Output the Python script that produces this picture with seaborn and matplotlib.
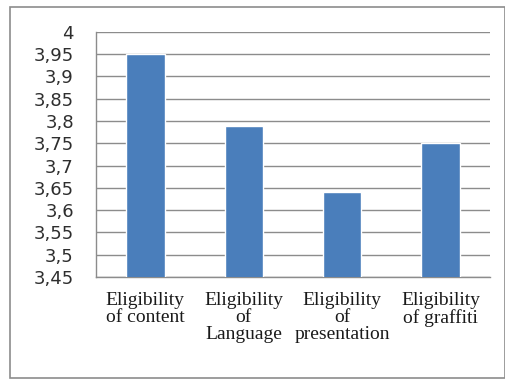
import matplotlib
matplotlib.use("Agg")
import matplotlib.pyplot as plt
import seaborn as sns
import pandas as pd
from matplotlib.patches import Rectangle
from matplotlib.ticker import FixedLocator

categories = ["Eligibility\nof content", "Eligibility\nof\nLanguage",
              "Eligibility\nof\npresentation", "Eligibility\nof graffiti"]
values = [3.95, 3.79, 3.64, 3.75]
yticks = [3.45, 3.5, 3.55, 3.6, 3.65, 3.7, 3.75, 3.8, 3.85, 3.9, 3.95, 4.0]
ytick_labels = ["3,45", "3,5", "3,55", "3,6", "3,65", "3,7", "3,75", "3,8",
                "3,85", "3,9", "3,95", "4"]

sns.set_style("white")
df = pd.DataFrame({"cat": categories, "val": values})

fig = plt.figure(figsize=(5.06, 3.80), dpi=100)
ax = fig.add_axes([0.190, 0.271, 0.778, 0.645])

sns.barplot(data=df, x="cat", y="val", color="#4A7EBB", saturation=1,
            width=0.39, ax=ax, zorder=3)

ax.set_ylim(3.45, 4.0)
ax.set_xlim(-0.5, 3.5)
ax.set_yticks(yticks)
ax.set_yticklabels(ytick_labels, fontsize=13, color="#2e2e2e",
                   family="DejaVu Sans")
ax.yaxis.grid(True, color="#8c8c8c", linewidth=1.0, zorder=0)
ax.set_axisbelow(True)
ax.tick_params(axis="y", length=7, width=1, color="#8c8c8c", pad=9)

ax.set_xticks(range(len(categories)))
ax.set_xticklabels(categories, fontsize=14, family="Liberation Serif",
                   color="#1a1a1a", linespacing=1.0)
ax.tick_params(axis="x", which="major", length=0, pad=11)
ax.xaxis.set_minor_locator(FixedLocator([-0.5, 0.5, 1.5, 2.5, 3.5]))
ax.tick_params(axis="x", which="minor", length=5, width=1, color="#8c8c8c")

ax.set_xlabel("")
ax.set_ylabel("")
for s in ["top", "right"]:
    ax.spines[s].set_visible(False)
for s in ["left", "bottom"]:
    ax.spines[s].set_color("#8c8c8c")
    ax.spines[s].set_linewidth(1)

fig.patches.append(Rectangle((10 / 506, 2 / 380), 495 / 506, 371 / 380,
                             transform=fig.transFigure, fill=False,
                             edgecolor="#8c8c8c", linewidth=1.2))

fig.savefig("out.png", dpi=100)
